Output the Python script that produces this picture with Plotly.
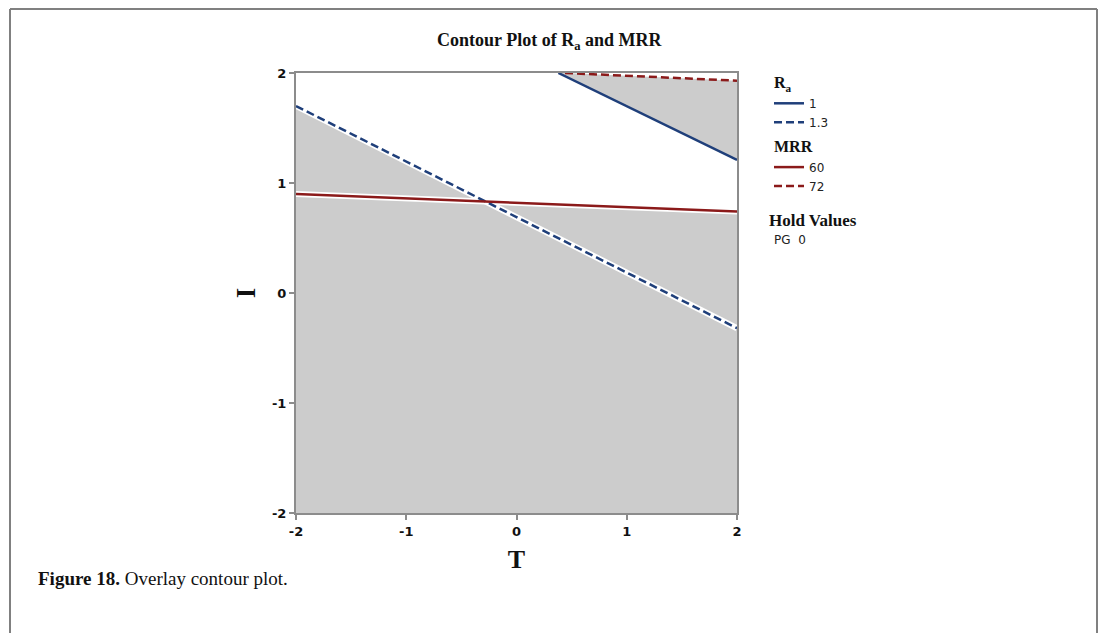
import numpy as np
import plotly.graph_objects as go

# ---- data ----
T_RANGE = [-2, 2]
I_RANGE = [-2, 2]
tick_vals = [-2, -1, 0, 1, 2]
tick_text = ["-2", "-1", "0", "1", "2"]

# contour lines (T, I) for each level
ra1_T = [0.38, 2.0]
ra1_I = [2.0, 1.21]
ra13_T = [-2.0, 2.0]
ra13_I = [1.70, -0.32]
mrr60_T = [-2.0, 2.0]
mrr60_I = [0.90, 0.74]
mrr72_T = [0.44, 2.0]
mrr72_I = [2.0, 1.93]

ra_levels = ["1", "1.3"]
mrr_levels = ["60", "72"]
hold_name = "PG"
hold_value = "0"

BLUE = "#1f3f7a"
RED = "#8b1a1a"
GRAY = "#cccccc"
AXIS = "#8c8c8c"

# intersection of MRR=60 and Ra=1.3 lines
def line_coef(T, I):
    m = (I[1] - I[0]) / (T[1] - T[0])
    return m, I[0] - m * T[0]

m1, b1 = line_coef(mrr60_T, mrr60_I)
m2, b2 = line_coef(ra13_T, ra13_I)
tx = (b2 - b1) / (m1 - m2)
ix = m1 * tx + b1

# white (feasible) region polygon
white_T = [T_RANGE[0], ra1_T[0], ra1_T[1], mrr60_T[1], tx, ra13_T[0], T_RANGE[0]]
white_I = [I_RANGE[1], ra1_I[0], ra1_I[1], mrr60_I[1], ix, ra13_I[0], I_RANGE[1]]
sliver_T = [mrr72_T[0], T_RANGE[1], mrr72_T[1], mrr72_T[0]]
sliver_I = [mrr72_I[0], I_RANGE[1], mrr72_I[1], mrr72_I[0]]

fig = go.Figure()
for xs, ys in [(white_T, white_I), (sliver_T, sliver_I)]:
    fig.add_trace(go.Scatter(x=xs, y=ys, mode="lines", fill="toself",
                             fillcolor="white", line=dict(width=0),
                             hoverinfo="skip", showlegend=False))

# white halos under the lines
for xs, ys in [(mrr60_T, mrr60_I), (ra13_T, ra13_I)]:
    fig.add_trace(go.Scatter(x=xs, y=ys, mode="lines",
                             line=dict(color="white", width=6),
                             hoverinfo="skip", showlegend=False))

fig.add_trace(go.Scatter(x=ra1_T, y=ra1_I, mode="lines", name=ra_levels[0],
                         line=dict(color=BLUE, width=2.5),
                         legendgroup="ra", legendgrouptitle_text="R<sub>a</sub>"))
fig.add_trace(go.Scatter(x=ra13_T, y=ra13_I, mode="lines", name=ra_levels[1],
                         line=dict(color=BLUE, width=2.5, dash="8px,4px"),
                         legendgroup="ra"))
fig.add_trace(go.Scatter(x=mrr60_T, y=mrr60_I, mode="lines", name=mrr_levels[0],
                         line=dict(color=RED, width=2.5),
                         legendgroup="mrr", legendgrouptitle_text="MRR"))
fig.add_trace(go.Scatter(x=mrr72_T, y=mrr72_I, mode="lines", name=mrr_levels[1],
                         line=dict(color=RED, width=2.5, dash="8px,4px"),
                         legendgroup="mrr"))

W, H = 1098, 633
L, R, Tm, B = 296, 1098 - 737, 73, 633 - 513
pw, ph = W - L - R, H - Tm - B

def px(x):
    return (x - L) / pw

def py(y):
    return (H - B - y) / ph

axis_common = dict(
    showgrid=False, zeroline=False, showline=True, linecolor=AXIS, linewidth=2,
    mirror=True, ticks="outside", ticklen=5, tickcolor=AXIS, tickwidth=1.5,
    tickvals=tick_vals, ticktext=tick_text,
    tickfont=dict(family="DejaVu Sans", size=13, color="#111", weight="bold"),
)

fig.update_layout(
    width=W, height=H,
    margin=dict(l=L, r=R, t=Tm, b=B),
    paper_bgcolor="white", plot_bgcolor=GRAY,
    xaxis=dict(range=T_RANGE, **axis_common,
               title=dict(text="T", standoff=12,
                          font=dict(family="Liberation Serif", size=26, color="#111", weight="bold"))),
    yaxis=dict(range=I_RANGE, **axis_common,
               title=dict(text="I", standoff=8,
                          font=dict(family="Liberation Serif", size=27, color="#111", weight="bold"))),
    legend=dict(x=px(769), y=py(65), xanchor="left", yanchor="top",
                bgcolor="rgba(0,0,0,0)", tracegroupgap=2,
                font=dict(family="DejaVu Sans", size=12, color="#222"),
                grouptitlefont=dict(family="Liberation Serif", size=16, color="#111", weight="bold")),
    showlegend=True,
    shapes=[
        dict(type="line", xref="paper", yref="paper", x0=px(10), x1=px(10), y0=py(9), y1=py(640),
             line=dict(color="#808080", width=2)),
        dict(type="line", xref="paper", yref="paper", x0=px(10), x1=px(1097), y0=py(9), y1=py(9),
             line=dict(color="#808080", width=2)),
        dict(type="line", xref="paper", yref="paper", x0=px(1097), x1=px(1097), y0=py(9), y1=py(640),
             line=dict(color="#808080", width=2)),
    ],
    annotations=[
        dict(text="<b>Contour Plot of R<sub>a</sub> and MRR</b>", xref="paper", yref="paper",
             x=px(549), y=py(42), xanchor="center", yanchor="middle", showarrow=False,
             font=dict(family="Liberation Serif", size=18, color="#111")),
        dict(text="<b>Hold Values</b>", xref="paper", yref="paper", x=px(813), y=py(221),
             xanchor="center", yanchor="middle", showarrow=False,
             font=dict(family="Liberation Serif", size=17, color="#111")),
        dict(text=f"{hold_name}  {hold_value}", xref="paper", yref="paper", x=px(790), y=py(240),
             xanchor="center", yanchor="middle", showarrow=False,
             font=dict(family="DejaVu Sans", size=12, color="#222")),
        dict(text="<b>Figure 18.</b> Overlay contour plot.", xref="paper", yref="paper",
             x=px(36), y=py(578), xanchor="left", yanchor="middle", showarrow=False,
             font=dict(family="Liberation Serif", size=19, color="#111")),
    ],
)

fig.write_html("out.html")
